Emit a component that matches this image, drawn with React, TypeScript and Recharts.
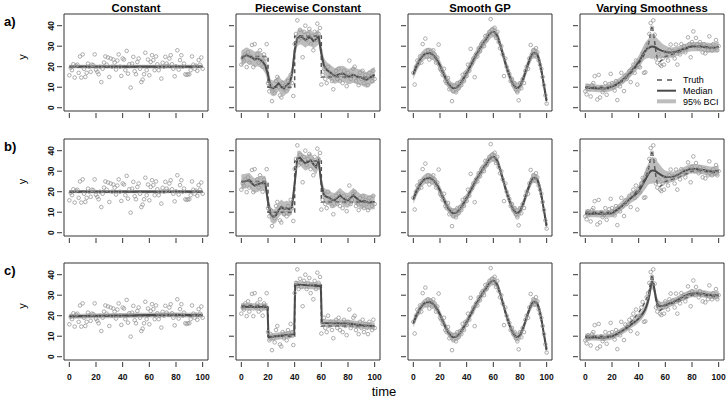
import React from "react";
import {
  ComposedChart,
  Line,
  Area,
  Scatter,
  XAxis,
  YAxis,
  ReferenceArea,
} from "recharts";

// axis ticks, titles
const xTicks = [0, 20, 40, 60, 80, 100];
const yTicks = [0, 10, 20, 30, 40];
const titles = ["Constant", "Piecewise Constant", "Smooth GP", "Varying Smoothness"];
const rowLabels = ["a)", "b)", "c)"];

// time index of the observations (0..100)
const timeIdx = Array.from({ length: 101 }, (_, i) => i);
const grid10 = [0, 10, 20, 30, 40, 50, 60, 70, 80, 90, 100];
const grid2 = Array.from({ length: 51 }, (_, i) => i * 2);

// observed points, one list per column (same data in each row)
const constPts = [
  15.8, 19.5, 18.3, 21.2, 14.7, 20.5, 21, 17, 25, 14.7,
  26, 19, 15, 17, 21.5, 20, 17.5, 21, 20.7, 26,
  18.5, 17.5, 16.3, 20, 12.5, 19, 22, 25, 21, 24.5,
  15, 24, 20, 23.5, 22, 18.6, 23, 26, 20, 15.5,
  24, 23.5, 18.3, 27.7, 16.6, 21.2, 9.8, 21.5, 24.8, 17.8,
  16.3, 22.3, 24, 19, 12.5, 13.7, 16.3, 26.8, 18.3, 23.5,
  15.8, 22.3, 25.6, 23.2, 18.3, 25, 21.2, 18.3, 20, 14.2,
  21.9, 20, 24.8, 21.5, 20.5, 24, 25.6, 21.2, 19, 15.3,
  20.2, 28, 18.6, 23.2, 25.6, 20, 21.5, 16.3, 16, 16.3,
  16.3, 18.3, 25, 21, 19, 20.5, 18, 23.2, 21, 24.5,
  19,
];
const pwPts = [
  21, 24, 23, 26, 19.8, 27, 22, 25, 30.6, 19.8,
  31, 24, 26, 22, 28, 23, 20, 26, 24, 31,
  12, 8, 11, 3.2, 9, 7, 13, 15, 10, 6,
  5, 12, 9, 11, 8, 13, 10, 16, 12, 5.7,
  31, 36, 42.6, 33, 38, 34, 24.6, 37, 40, 33,
  36, 38.4, 31, 35, 28, 37, 33, 41, 36, 38.9,
  11.3, 16, 19, 14, 12, 20, 15, 17, 13, 9,
  16, 18, 14, 19, 13, 16, 12, 18, 15, 10.5,
  17, 23, 14, 16, 19, 20, 13, 15, 11, 17,
  14, 18, 12, 16, 14, 11, 17, 15, 13, 18,
  14,
];
const gpPts = [
  17, 11.3, 20, 23, 21.5, 25, 22, 31, 26, 33.7,
  25, 28, 23.5, 27, 24.5, 28, 26, 22, 24.5, 30.8,
  19, 18, 16, 19, 13, 12, 14.5, 9, 11, 3.2,
  8, 10.5, 7.5, 12, 9.5, 12.5, 11, 16, 13, 17,
  15.5, 21, 18, 28.7, 21.5, 24, 14.9, 26, 25, 29,
  27.5, 31, 32, 30, 35, 33, 35.5, 37, 43.2, 38,
  36, 39, 34, 37, 32, 29, 30, 26, 15.4, 24,
  20, 18, 16.5, 13, 14, 11, 12, 9, 7.5, 3.6,
  12, 9.5, 14, 12, 18, 20, 19, 24, 30.6, 26,
  28, 25.5, 29, 27, 23, 21, 19, 15, 11, 6,
  2,
];
const vsPts = [
  8, 6.5, 10.5, 9, 5.5, 11, 12, 15.4, 9.5, 4,
  16, 5, 10, 7.6, 8.7, 12, 6.3, 9.7, 11.5, 16.5,
  12, 10, 8.4, 13, 3.7, 12, 10.4, 17, 13, 8.1,
  15.7, 14, 15.7, 18, 12.5, 19, 21, 17, 23, 11.3,
  20, 19.7, 24, 26.7, 17, 17.3, 29, 31, 36, 41.3,
  39, 42.6, 35.6, 24, 22, 26, 21, 20.3, 24, 21,
  27, 25, 23, 28, 30.8, 26, 27.5, 24, 30.8, 21,
  28, 26, 31, 28.5, 30, 27, 29, 34.3, 31, 24.6,
  32, 37.2, 30, 34, 31, 29, 32, 30, 27, 31,
  26.5, 30, 28, 34.8, 30, 28, 31, 29, 33, 28,
  30,
];

// true curves
const truth1X = [0, 100];
const truth1Y = [20, 20];
const truth2X = [0, 20, 20, 40, 40, 60, 60, 100];
const truth2Y = [25, 25, 10, 10, 35, 35, 15, 15];
const truth3Y = [
  16, 20, 22.5, 24.5, 25.8, 26.5, 26.7, 26.3, 25, 23,
  20.5, 17.5, 14.5, 12, 10.2, 9.5, 9.7, 10.8, 12.5, 14.8,
  17, 19.5, 22, 24.5, 27, 29, 31, 33, 35, 36.5,
  37, 36, 33, 28.5, 24, 19.5, 15.5, 12.5, 10.3, 9.5,
  10.5, 13.5, 17.5, 21.5, 25, 26.8, 26.5, 24, 18, 10,
  2.5,
];
const truth4X = [0, 5, 10, 15, 20, 25, 30, 35, 40, 43, 45, 47, 48, 49, 50, 51, 52, 53, 54, 56, 58, 60, 65, 70, 75, 80, 85, 90, 95, 100];
const truth4Y = [10, 10, 10, 10, 10.2, 11.5, 14, 17.5, 21.5, 24.5, 27, 30, 33, 37, 40, 37, 32, 27, 24, 22.5, 23.5, 25, 26, 27, 28.5, 30, 30.2, 29.8, 29.3, 29.5];

// posterior medians
const med1a = [20.1, 20, 20, 20, 20, 20, 20, 20, 20, 20, 20.1];
const med1b = [20, 20, 20, 20, 20, 20, 20, 20, 20, 20, 20];
const med1c = [19.7, 19.8, 19.9, 20, 20.1, 20.2, 20.3, 20.4, 20.4, 20.3, 20.3];

const med2a = [
  24, 25, 25.7, 25, 24.5, 23.5, 24, 23.5, 22.4, 20.5,
  16, 10, 9.4, 10.5, 11.9, 10, 9.4, 11, 12, 16,
  28, 33.8, 34.8, 34.2, 33, 34, 34.3, 32.5, 33.5, 34.6,
  26.5, 20.5, 18.5, 17.5, 16.5, 15.4, 16, 16.5, 16.7, 16,
  15.1, 15.5, 16, 15.5, 15, 14.8, 14, 13.5, 14.5, 15.5,
  16,
];
const med2b = [
  24.8, 25, 25.3, 25.6, 24, 23, 23.5, 24, 24.2, 24,
  15, 9, 7.7, 8.5, 11, 12.6, 11.5, 12, 11.5, 12.6,
  24, 36.2, 36.5, 35, 33.8, 34.5, 35.4, 33.5, 32, 35,
  24, 18.3, 17.5, 17, 16, 15.8, 17, 18.3, 17, 16,
  15.8, 17, 18.3, 17, 16, 15, 15.5, 15, 14.5, 15,
  15,
];
const x2c = [0, 10, 19.6, 20.4, 30, 39.6, 40.4, 50, 59.6, 60.4, 70, 80, 90, 100];
const med2c = [24.4, 24.3, 24.3, 9.4, 10.3, 11, 35.2, 34.8, 34.4, 16.5, 16.3, 16.2, 15.4, 14.9];

const med3 = [
  16.5, 19.5, 22.3, 24.4, 25.8, 26.5, 26.6, 26.1, 24.9, 23,
  20.5, 17.6, 14.7, 12.2, 10.4, 9.6, 9.7, 10.7, 12.4, 14.6,
  16.9, 19.4, 21.9, 24.3, 26.7, 28.8, 30.9, 32.9, 34.8, 36.4,
  37, 36, 33.2, 28.8, 24.2, 19.7, 15.7, 12.6, 10.4, 9.6,
  10.5, 13.3, 17.2, 21.1, 24.6, 26.6, 26.4, 24.1, 18.4, 10.8,
  3.5,
];

const x4ab = [0, 5, 10, 15, 20, 25, 30, 35, 40, 45, 48, 50, 52, 55, 60, 65, 70, 75, 80, 85, 90, 95, 100];
const med4a = [9.9, 9.6, 9.4, 9.4, 10.3, 12.2, 14.8, 18.2, 22.3, 27.8, 29.3, 29.8, 29.6, 28.5, 27.3, 26.9, 27.8, 29, 29.8, 29.8, 29.5, 29.2, 29.8];
const w4a = [2, 1.8, 1.8, 1.8, 2, 2.2, 2.3, 2.5, 3, 4, 5, 6, 5.5, 4.5, 3, 2.5, 2.2, 2.2, 2.3, 2.3, 2.3, 2.4, 2.5];
const med4b = [9.3, 9.3, 9.2, 9.2, 9.5, 11.8, 14.6, 17.3, 20.2, 25.8, 29.3, 30.4, 30.2, 28.9, 27.2, 27.2, 28.5, 30.2, 31.2, 31, 30.5, 29.8, 30.3];
const w4b = [2, 1.8, 1.8, 1.8, 2, 2.2, 2.3, 2.5, 3, 4.5, 5.5, 6.5, 6, 5, 3.2, 2.5, 2.2, 2.2, 2.3, 2.3, 2.3, 2.4, 2.5];
const x4c = [0, 5, 10, 15, 20, 25, 30, 35, 40, 43, 45, 47, 48, 49, 50, 51, 52, 53, 54, 55, 56, 58, 60, 65, 70, 75, 80, 85, 90, 95, 100];
const med4c = [9.4, 9.4, 9.3, 9.4, 10, 11.5, 13.5, 16, 18.6, 21, 23.2, 27, 30, 34, 36.5, 35.5, 32, 28.5, 26, 25, 24.6, 24.8, 25.2, 26.5, 28, 29.8, 30.8, 31, 30.5, 30, 30];
const w4c = [1.8, 1.5, 1.5, 1.5, 1.6, 1.6, 1.7, 1.8, 2, 2.2, 2.4, 2.8, 3, 3.2, 3.5, 3.5, 3.2, 3, 2.8, 2.5, 2.2, 2, 2, 1.8, 1.8, 1.8, 1.8, 1.8, 1.8, 1.8, 2];

const points = [constPts, pwPts, gpPts, vsPts];
const truths = [
  { x: truth1X, y: truth1Y, curve: "linear" },
  { x: truth2X, y: truth2Y, curve: "linear" },
  { x: grid2, y: truth3Y, curve: "monotone" },
  { x: truth4X, y: truth4Y, curve: "linear" },
];

// x grid, median, half width of 95% band
const panels: any[][] = [
  [
    { x: grid10, med: med1a, w: 0.9, curve: "linear" },
    { x: grid2, med: med2a, w: 3.8, curve: "linear" },
    { x: grid2, med: med3, w: 2.6, curve: "monotone" },
    { x: x4ab, med: med4a, w: w4a, curve: "monotone" },
  ],
  [
    { x: grid10, med: med1b, w: 0.8, curve: "linear" },
    { x: grid2, med: med2b, w: 3.6, curve: "linear" },
    { x: grid2, med: med3, w: 2.4, curve: "monotone" },
    { x: x4ab, med: med4b, w: w4b, curve: "monotone" },
  ],
  [
    { x: grid10, med: med1c, w: 1.2, curve: "linear" },
    { x: x2c, med: med2c, w: 1.8, curve: "linear" },
    { x: grid2, med: med3, w: 2.2, curve: "monotone" },
    { x: x4c, med: med4c, w: w4c, curve: "monotone" },
  ],
];

const FONT = "'Liberation Sans', Arial, Helvetica, sans-serif";
const BOX_W = 144;
const BOX_H = 97;
const boxLeft = [64, 236, 408, 580];
const boxTop = [14, 138.5, 263];
// the axes take 1px each, so the plot area starts at left 20 / ends 26 above the bottom
const M = { top: 4, right: 4, bottom: 25, left: 19 };

function XTick(props: any) {
  const { x, y, payload, showLabel } = props;
  return (
    <g>
      <line x1={x} x2={x} y1={y + 2} y2={y + 7} stroke="#333" strokeWidth={1} />
      {showLabel && (
        <text x={x} y={y + 19.5} textAnchor="middle" fontSize={8.5} fontWeight="bold" fontFamily={FONT} fill="#111">
          {payload.value}
        </text>
      )}
    </g>
  );
}

function YTick(props: any) {
  const { x, y, payload, showLabel } = props;
  return (
    <g>
      <line x1={x - 7} x2={x - 2} y1={y} y2={y} stroke="#333" strokeWidth={1} />
      {showLabel && (
        <text
          x={x - 10}
          y={y}
          transform={`rotate(-90, ${x - 10}, ${y})`}
          textAnchor="middle"
          fontSize={8.5}
          fontWeight="bold"
          fontFamily={FONT}
          fill="#111"
        >
          {payload.value}
        </text>
      )}
    </g>
  );
}

const Dot = (p: any) => (
  <circle cx={p.cx} cy={p.cy} r={1.8} fill="none" stroke="#999" strokeWidth={0.8} />
);

function Panel({ row, col }: { row: number; col: number }) {
  const p = panels[row][col];
  const data = p.x.map((t: number, i: number) => {
    const w = typeof p.w === "number" ? p.w : p.w[i];
    return { t, med: p.med[i], band: [p.med[i] - w, p.med[i] + w] };
  });
  const tr = truths[col];
  const truthData = tr.x.map((t: number, i: number) => ({ t, y: tr.y[i] }));
  const pts = timeIdx.map((t, i) => ({ t, y: points[col][i] }));

  return (
    <div style={{ position: "absolute", left: boxLeft[col] - M.left - 1, top: boxTop[row] - M.top }}>
      <ComposedChart
        width={BOX_W + M.left + 1 + M.right}
        height={BOX_H + M.top + M.bottom + 1}
        data={data}
        margin={M}
      >
        <XAxis
          dataKey="t"
          type="number"
          domain={[-4, 104]}
          ticks={xTicks}
          interval={0}
          allowDataOverflow
          axisLine={false}
          tickLine={false}
          tickSize={0}
          tickMargin={0}
          height={1}
          tick={(tp: any) => <XTick {...tp} showLabel={row === 2} />}
        />
        <YAxis
          type="number"
          domain={[-1.6, 45.7]}
          ticks={yTicks}
          interval={0}
          allowDataOverflow
          axisLine={false}
          tickLine={false}
          tickSize={0}
          tickMargin={0}
          width={1}
          tick={(tp: any) => <YTick {...tp} showLabel={col === 0} />}
        />
        <Scatter data={pts} dataKey="y" shape={Dot} isAnimationActive={false} />
        <Area
          dataKey="band"
          type={p.curve}
          stroke="none"
          fill="#bdbdbd"
          fillOpacity={1}
          isAnimationActive={false}
        />
        <Line
          data={truthData}
          dataKey="y"
          type={tr.curve as any}
          stroke="#555"
          strokeWidth={1.5}
          strokeDasharray="4 3"
          dot={false}
          isAnimationActive={false}
        />
        <Line
          dataKey="med"
          type={p.curve}
          stroke="#4a4a4a"
          strokeWidth={col === 0 ? 2.2 : 2}
          dot={false}
          isAnimationActive={false}
        />
        <ReferenceArea
          x1={-4}
          x2={104}
          y1={-1.6}
          y2={45.7}
          fill="none"
          fillOpacity={0}
          stroke="#333"
          strokeWidth={1}
          ifOverflow="visible"
        />
      </ComposedChart>
    </div>
  );
}

export default function App() {
  return (
    <div style={{ position: "absolute", left: 0, top: 0, width: 728, height: 406, background: "#fff" }}>
      {rowLabels.map((_, r) =>
        titles.map((_, c) => <Panel key={`${r}-${c}`} row={r} col={c} />)
      )}
      <svg
        width={728}
        height={406}
        style={{ position: "absolute", left: 0, top: 0, pointerEvents: "none" }}
      >
        {titles.map((t, c) => (
          <text
            key={t}
            x={boxLeft[c] + BOX_W / 2}
            y={12}
            textAnchor="middle"
            fontSize={11.3}
            fontWeight="bold"
            fontFamily={FONT}
            fill="#000"
          >
            {t}
          </text>
        ))}
        {rowLabels.map((l, r) => (
          <g key={l}>
            <text x={4} y={boxTop[r] + 12} fontSize={13} fontWeight="bold" fontFamily={FONT} fill="#000">
              {l}
            </text>
            <text
              x={25.5}
              y={boxTop[r] + 43}
              transform={`rotate(-90, 25.5, ${boxTop[r] + 43})`}
              textAnchor="middle"
              fontSize={11}
              fontFamily={FONT}
              fill="#000"
            >
              y
            </text>
          </g>
        ))}
        <text x={384} y={396} textAnchor="middle" fontSize={13} fontFamily={FONT} fill="#000">
          time
        </text>
        {/* legend */}
        <line x1={657} x2={676} y1={80} y2={80} stroke="#555" strokeWidth={1.5} strokeDasharray="5 5" />
        <line x1={657} x2={676} y1={90.7} y2={90.7} stroke="#4a4a4a" strokeWidth={2} />
        <line x1={657} x2={676} y1={101.3} y2={101.3} stroke="#bdbdbd" strokeWidth={4} />
        <text x={683} y={83.3} fontSize={9} fontFamily={FONT} fill="#000">Truth</text>
        <text x={683} y={94} fontSize={9} fontFamily={FONT} fill="#000">Median</text>
        <text x={683} y={104.6} fontSize={9} fontFamily={FONT} fill="#000">95% BCI</text>
      </svg>
    </div>
  );
}
